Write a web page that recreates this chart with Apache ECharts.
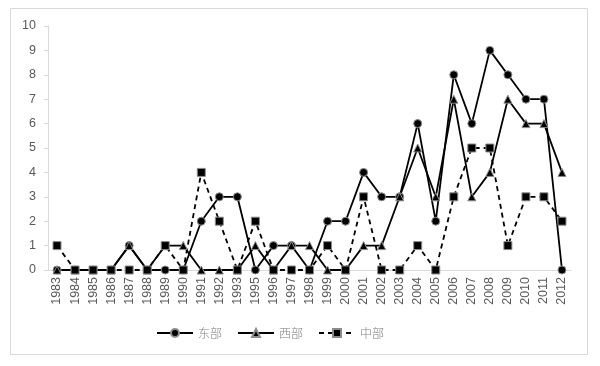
<!DOCTYPE html>
<html><head><meta charset="utf-8">
<script src="https://cdn.jsdelivr.net/npm/echarts@6/dist/echarts.min.js"></script>
<style>html,body{margin:0;padding:0;background:#fff}#c{width:600px;height:366px}</style>
</head><body><div id="c"></div>
<script>
const years = ['1983','1984','1985','1986','1987','1988','1989','1990','1991','1992','1993','1995','1996','1997','1998','1999','2000','2001','2002','2003','2004','2005','2006','2007','2008','2009','2010','2011','2012'];
const east = [0,0,0,0,1,0,0,0,2,3,3,0,1,1,0,2,2,4,3,3,6,2,8,6,9,8,7,7,0];
const west = [0,0,0,0,1,0,1,1,0,0,0,1,0,1,1,0,0,1,1,3,5,3,7,3,4,7,6,6,4];
const central = [1,0,0,0,0,0,1,0,4,2,0,2,0,0,0,1,0,3,0,0,1,0,3,5,5,1,3,3,2];
const yTicks = [0,1,2,3,4,5,6,7,8,9,10];

const chart = echarts.init(document.getElementById('c'));
const mk = (name, data, symbol, dashed, size) => ({
  name, type: 'line', data, symbol, symbolSize: size,
  lineStyle: {color: '#000', width: 1.8, type: dashed ? [5,4] : 'solid'},
  itemStyle: {color: '#000', borderColor: '#8c8c8c', borderWidth: 1},
  emphasis: {disabled: true}
});
chart.setOption({
  animation: false,
  graphic: [{type: 'rect', shape: {x: 10.5, y: 8.5, width: 577, height: 346}, style: {fill: 'none', stroke: '#d9d9d9', lineWidth: 1}}],
  grid: {left: 48, right: 29, top: 26, bottom: 96},
  legend: {
    top: 322, left: 151, itemWidth: 36, itemHeight: 10, itemGap: 15,
    textStyle: {color: '#808080', fontSize: 12, fontFamily: 'Noto Sans CJK SC', fontWeight: 300},
    data: ['东部','西部','中部']
  },
  xAxis: {
    type: 'category', data: years, boundaryGap: true,
    axisLine: {lineStyle: {color: '#d9d9d9'}},
    axisTick: {show: false},
    axisLabel: {rotate: 90, color: '#595959', fontSize: 12.5, fontFamily: 'Liberation Sans', interval: 0, margin: 7}
  },
  yAxis: {
    type: 'value', min: 0, max: 10, interval: 1,
    axisLine: {show: true, lineStyle: {color: '#d9d9d9'}},
    axisTick: {show: true, length: 4, lineStyle: {color: '#d9d9d9'}},
    splitLine: {show: false},
    axisLabel: {color: '#595959', fontSize: 12.5, fontFamily: 'Liberation Sans', margin: 12,
      formatter: v => yTicks.includes(v) ? String(v) : ''}
  },
  series: [
    mk('东部', east, 'circle', false, 8),
    mk('西部', west, 'triangle', false, 8),
    mk('中部', central, 'rect', true, 8)
  ]
});
</script></body></html>
